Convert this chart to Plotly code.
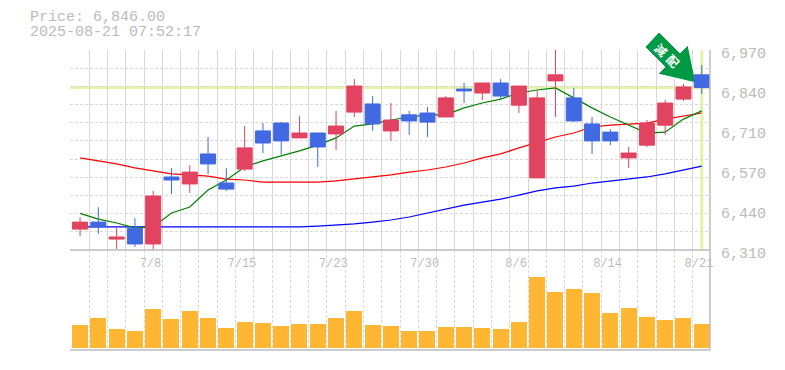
import plotly.graph_objects as go

W, H = 785, 370
title_price = "Price: 6,846.00"
title_time = "2025-08-21 07:52:17"
tick_vals = [6970, 6838, 6706, 6574, 6442, 6310]
tick_text = ["6,970", "6,840", "6,710", "6,570", "6,440", "6,310"]
date_idx = [4, 9, 14, 19, 24, 29, 34]
date_text = ["7/8", "7/15", "7/23", "7/30", "8/6", "8/14", "8/21"]
last_price = 6846

opens = [6379, 6402, 6346, 6382, 6330, 6551, 6528, 6627, 6531, 6577, 6703, 6729, 6680, 6696, 6693, 6765, 6792, 6703, 6756, 6762, 6749, 6841, 6828, 6861, 6788, 6548, 6868, 6812, 6726, 6699, 6614, 6656, 6722, 6808, 6888]
closes = [6402, 6386, 6353, 6330, 6488, 6541, 6567, 6594, 6511, 6647, 6663, 6670, 6696, 6650, 6719, 6851, 6726, 6739, 6736, 6732, 6812, 6835, 6861, 6818, 6851, 6812, 6888, 6736, 6670, 6670, 6630, 6729, 6795, 6848, 6846]
highs = [6418, 6451, 6385, 6415, 6505, 6581, 6590, 6683, 6581, 6719, 6729, 6732, 6752, 6696, 6769, 6874, 6818, 6795, 6769, 6782, 6818, 6861, 6861, 6874, 6851, 6838, 6970, 6845, 6749, 6709, 6650, 6739, 6805, 6858, 6920]
lows = [6356, 6363, 6313, 6320, 6310, 6495, 6498, 6561, 6505, 6571, 6630, 6624, 6680, 6584, 6640, 6749, 6703, 6670, 6690, 6683, 6749, 6795, 6805, 6808, 6762, 6548, 6749, 6732, 6627, 6656, 6581, 6650, 6690, 6802, 6825]
ma_green = [6431, 6412, 6399, 6383, 6386, 6432, 6452, 6508, 6541, 6584, 6604, 6620, 6637, 6656, 6680, 6719, 6726, 6739, 6749, 6756, 6756, 6779, 6795, 6808, 6828, 6838, 6845, 6812, 6779, 6749, 6722, 6696, 6699, 6742, 6769]
ma_red = [6614, 6604, 6594, 6581, 6571, 6561, 6558, 6554, 6544, 6541, 6534, 6534, 6533, 6534, 6538, 6544, 6551, 6558, 6567, 6574, 6584, 6597, 6614, 6627, 6647, 6666, 6683, 6696, 6716, 6722, 6726, 6729, 6742, 6752, 6762]
ma_blue = [6386, 6386, 6385, 6385, 6385, 6385, 6385, 6385, 6385, 6385, 6385, 6385, 6386, 6389, 6392, 6396, 6402, 6409, 6419, 6432, 6445, 6458, 6468, 6478, 6491, 6505, 6515, 6521, 6531, 6538, 6544, 6551, 6561, 6574, 6587]
volumes = [230, 300, 190, 170, 390, 290, 370, 300, 200, 260, 250, 220, 240, 240, 300, 370, 230, 220, 170, 170, 210, 210, 200, 190, 260, 710, 560, 590, 550, 350, 400, 310, 280, 300, 240]

RED = "#E24360"
BLUE = "#4169E1"
GRID = "#D8D8D8"
AXIS = "#BBBBBB"
LIGHT = "#E5F5A5"
ORANGE = "#FFB733"
GREEN = "#009944"
MONO = "Liberation Mono"

n = len(closes)
xs = list(range(n))
grid_x = [i - 0.5 for i in range(n + 1)]
grid_y = [6310 + 60 * k for k in range(12)]

fig = go.Figure()
for values, color in [(ma_blue, "#0000FF"), (ma_red, "#FF0000"), (ma_green, "#008000")]:
    fig.add_trace(go.Scatter(x=xs, y=values, mode="lines", line=dict(color=color, width=1.2),
                             xaxis="x", yaxis="y", zorder=1, hoverinfo="skip"))
fig.add_trace(go.Candlestick(x=xs, open=opens, high=highs, low=lows, close=closes,
                             increasing=dict(line=dict(color=RED, width=1), fillcolor=RED),
                             decreasing=dict(line=dict(color=BLUE, width=1), fillcolor=BLUE),
                             xaxis="x", yaxis="y", zorder=2))
fig.add_trace(go.Bar(x=xs, y=volumes, marker=dict(color=ORANGE, line=dict(width=0)), width=0.875,
                     xaxis="x2", yaxis="y2"))
# carries the price labels, which sit 3px under their grid position
fig.add_trace(go.Scatter(x=[xs[-1]], y=[last_price], mode="none", xaxis="x", yaxis="y3", hoverinfo="skip"))
# arrow badge, drawn above the candles on a full-page overlay whose units are pixels
arrow_x = [659, 680, 688, 696, 658, 665, 645, 659]
arrow_y = [32, 53, 45, 83, 74, 67, 47, 32]
fig.add_trace(go.Scatter(x=arrow_x, y=arrow_y, mode="lines", fill="toself", fillcolor=GREEN,
                         line=dict(color="white", width=1), xaxis="x3", yaxis="y4", hoverinfo="skip"))

x_range = [-0.55, 34.45]
common_x = dict(range=x_range, showgrid=False, zeroline=False, showline=False, automargin=False,
                minor=dict(tickvals=grid_x, showgrid=True, gridcolor=GRID, griddash="3px,2px", gridwidth=1, ticklen=0))
fig.update_layout(
    width=W, height=H, margin=dict(l=0, r=0, t=0, b=0),
    paper_bgcolor="white", plot_bgcolor="rgba(0,0,0,0)", showlegend=False, boxgap=0.18, boxgroupgap=0,
    bargap=0,
    xaxis=dict(domain=[70 / W, 710 / W], anchor="y", rangeslider=dict(visible=False),
               tickvals=[i - 0.15 for i in date_idx], ticktext=date_text, ticklen=0, ticklabelstandoff=4,
               tickfont=dict(family=MONO, size=12, color=AXIS), **common_x),
    yaxis=dict(domain=[1 - 250 / H, 1 - 50 / H], anchor="x", range=[6310, 6970], automargin=False,
               showticklabels=False, showgrid=False, zeroline=False,
               minor=dict(tickvals=grid_y, showgrid=True, gridcolor=GRID, griddash="3px,2px", gridwidth=1, ticklen=0)),
    yaxis3=dict(domain=[1 - 253 / H, 1 - 53 / H], anchor="free", position=710 / W, side="right", range=[6310, 6970],
                tickvals=tick_vals, ticktext=tick_text, ticklen=0, ticklabelstandoff=10, automargin=False,
                tickfont=dict(family=MONO, size=15, color=AXIS), showgrid=False, zeroline=False),
    xaxis2=dict(domain=[70 / W, 710 / W], anchor="y2", showticklabels=False, ticks="", **common_x),
    yaxis2=dict(domain=[1 - 350 / H, 1 - 250 / H], anchor="x2", side="right", range=[-20, 980], automargin=False,
                showgrid=False, zeroline=False, showticklabels=False),
    xaxis3=dict(domain=[0, 1], anchor="y4", range=[0, W], visible=False, automargin=False),
    yaxis4=dict(domain=[0, 1], anchor="x3", range=[H, 0], visible=False, automargin=False),
)

fig.add_shape(type="line", xref="x domain", yref="y", x0=0, x1=1, y0=last_price, y1=last_price,
              line=dict(color=LIGHT, width=3), layer="below")
fig.add_shape(type="line", xref="x", yref="y domain", x0=n - 1, x1=n - 1, y0=0, y1=1,
              line=dict(color=LIGHT, width=3), layer="below")
# frame
for x0, y0, x1, y1 in [(70, 250, 710, 250), (70, 350, 710, 350), (710, 50, 710, 350)]:
    fig.add_shape(type="line", xref="paper", yref="paper", x0=x0 / W, x1=x1 / W, y0=1 - y0 / H, y1=1 - y1 / H,
                  line=dict(color=AXIS, width=1.5))
fig.add_annotation(xref="paper", yref="paper", x=661 / W, y=1 - 50 / H, xanchor="center", yanchor="middle",
                   text="<b>減</b>", showarrow=False, textangle=45,
                   font=dict(family="Noto Sans CJK JP", size=12, color="white"))
fig.add_annotation(xref="paper", yref="paper", x=673 / W, y=1 - 61 / H, xanchor="center", yanchor="middle",
                   text="<b>配</b>", showarrow=False, textangle=45,
                   font=dict(family="Noto Sans CJK JP", size=12, color="white"))
for text, yy in [(title_price, 18), (title_time, 33)]:
    fig.add_annotation(xref="paper", yref="paper", x=30 / W, y=1 - yy / H, text=text, showarrow=False,
                       xanchor="left", yanchor="middle", xshift=-2, font=dict(family=MONO, size=15, color=AXIS))

fig.write_html("out.html", config=dict(displayModeBar=False),
               post_script="document.body.style.margin='0';")
